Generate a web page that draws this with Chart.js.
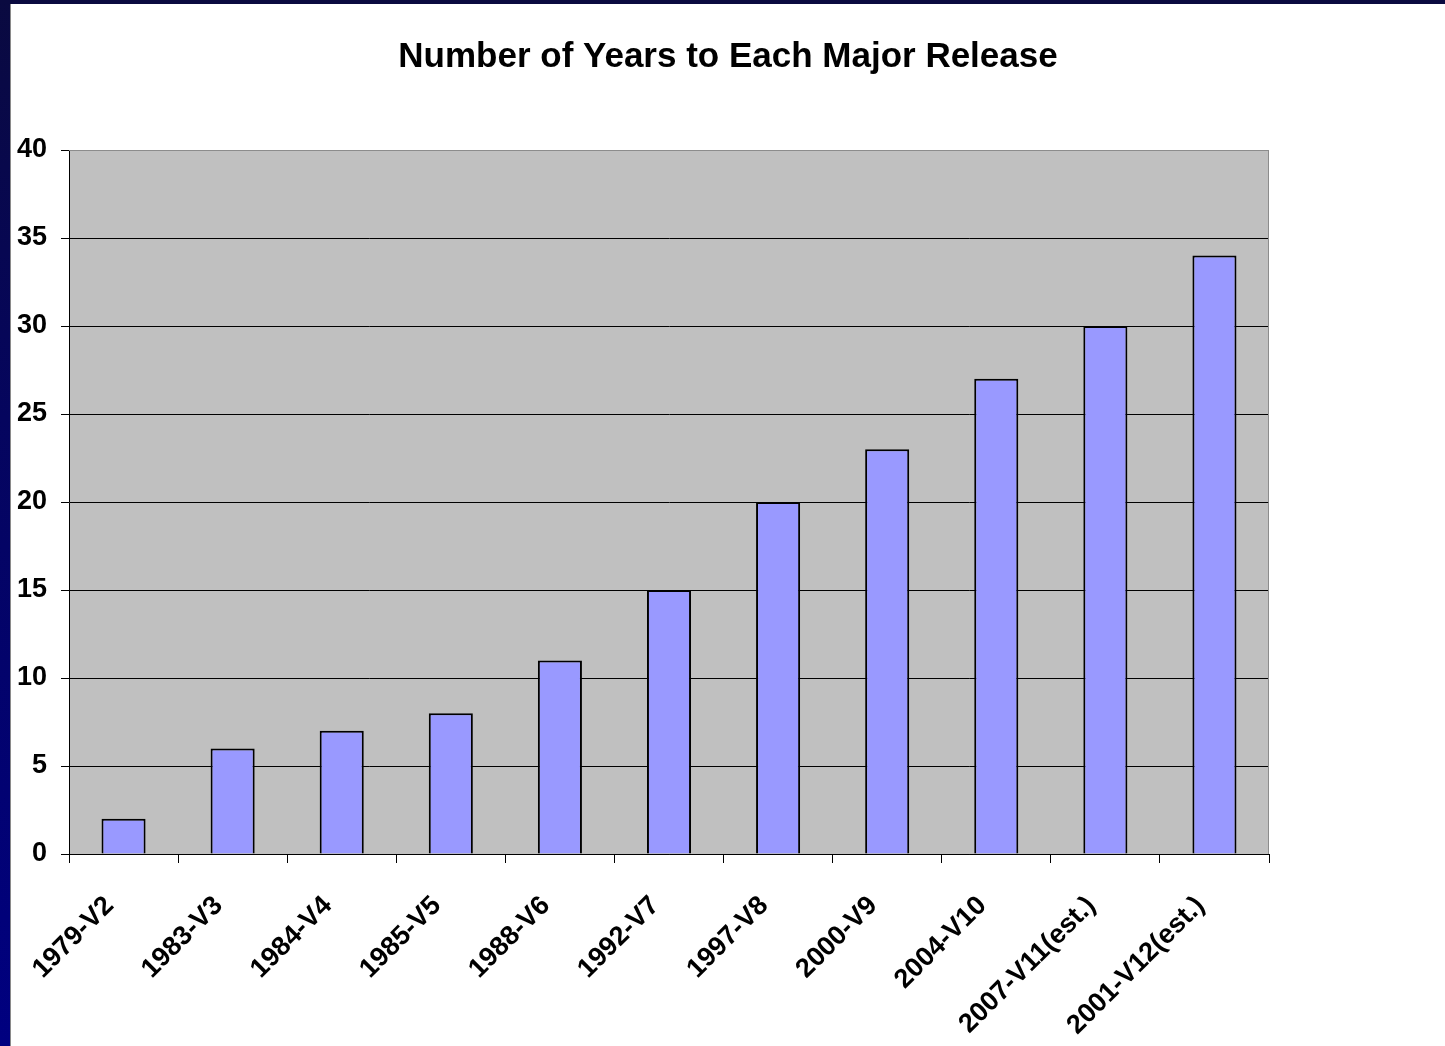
<!DOCTYPE html>
<html>
<head>
<meta charset="utf-8">
<title>Number of Years to Each Major Release</title>
<script src="https://cdn.jsdelivr.net/npm/chart.js@4/dist/chart.umd.min.js"></script>
<style>
  html, body { margin: 0; padding: 0; }
  body {
    width: 1445px; height: 1046px; overflow: hidden; position: relative;
    background: linear-gradient(to bottom, #0a0a40 0%, #05055e 40%, #000080 100%);
  }
  #panel {
    position: absolute; left: 10px; top: 4px; right: 0; bottom: 0;
    background: #ffffff; border-left: 1px solid #8a8a8a; box-sizing: border-box;
  }
  #chart { position: absolute; left: 0; top: 0; }
</style>
</head>
<body>
<div id="panel"></div>
<canvas id="chart" width="1445" height="1046"></canvas>
<script>
// Release labels and the years elapsed to each one
const releases = ['1979-V2', '1983-V3', '1984-V4', '1985-V5', '1988-V6', '1992-V7',
                  '1997-V8', '2000-V9', '2004-V10', '2007-V11(est.)', '2001-V12(est.)'];
const yearsToRelease = [2, 6, 7, 8, 11, 15, 20, 23, 27, 30, 34];
const chartTitle = 'Number of Years to Each Major Release';
const yMin = 0, yMax = 40, yStep = 5;

Chart.defaults.font.family = 'Arial, "Liberation Sans", sans-serif';
Chart.defaults.color = '#000000';

// Grey plot background with a grey frame on the top and right
const plotFrame = {
  id: 'plotFrame',
  beforeDraw(chart) {
    const { ctx, chartArea: a } = chart;
    ctx.save();
    ctx.fillStyle = '#c0c0c0';
    ctx.fillRect(a.left, a.top, a.right - a.left, a.bottom - a.top);
    ctx.restore();
  },
  afterDatasetsDraw(chart) {
    const { ctx, chartArea: a } = chart;
    ctx.save();
    ctx.strokeStyle = '#8c8c8c';
    ctx.lineWidth = 1;
    ctx.beginPath();
    ctx.moveTo(a.left, a.top + 0.5);
    ctx.lineTo(a.right - 0.5, a.top + 0.5);
    ctx.lineTo(a.right - 0.5, a.bottom);
    ctx.stroke();
    ctx.restore();
  }
};

// Title centred on the white page
const pageTitle = {
  id: 'pageTitle',
  afterDraw(chart) {
    const ctx = chart.ctx;
    ctx.save();
    ctx.fillStyle = '#000000';
    ctx.font = 'bold 35px Arial, "Liberation Sans", sans-serif';
    ctx.textAlign = 'center';
    ctx.textBaseline = 'middle';
    ctx.fillText(chartTitle, 728, 57);
    ctx.restore();
  }
};

new Chart(document.getElementById('chart'), {
  type: 'bar',
  data: {
    labels: releases,
    datasets: [{
      data: yearsToRelease,
      backgroundColor: '#9999ff',
      borderColor: '#000000',
      borderWidth: 2,
      barPercentage: 0.404,
      categoryPercentage: 1.0
    }]
  },
  options: {
    responsive: false,
    animation: false,
    layout: { padding: { top: 150, right: 176, bottom: 0, left: 0 } },
    plugins: {
      legend: { display: false },
      title: { display: false },
      tooltip: { enabled: false }
    },
    scales: {
      x: {
        offset: true,
        afterFit(scale) { scale.height = 192; },
        grid: {
          offset: true,
          drawOnChartArea: false,
          drawTicks: true,
          tickLength: 9,
          color: '#000000',
          tickColor: '#000000'
        },
        border: { display: true, color: '#000000', width: 1 },
        ticks: {
          autoSkip: false,
          minRotation: 45,
          maxRotation: 45,
          padding: 27,
          labelOffset: -14,
          color: '#000000',
          font: { size: 27, weight: 'bold' }
        }
      },
      y: {
        min: yMin,
        max: yMax,
        afterFit(scale) { scale.width = 69; },
        grid: {
          drawTicks: true,
          tickLength: 8,
          color: (c) => (c.tick && c.tick.value === yMax ? '#8c8c8c' : '#000000'),
          tickColor: '#000000',
          lineWidth: 1
        },
        border: { display: true, color: '#000000', width: 1 },
        ticks: {
          stepSize: yStep,
          padding: 14,
          color: '#000000',
          font: { size: 27, weight: 'bold' }
        }
      }
    }
  },
  plugins: [plotFrame, pageTitle]
});
</script>
</body>
</html>
